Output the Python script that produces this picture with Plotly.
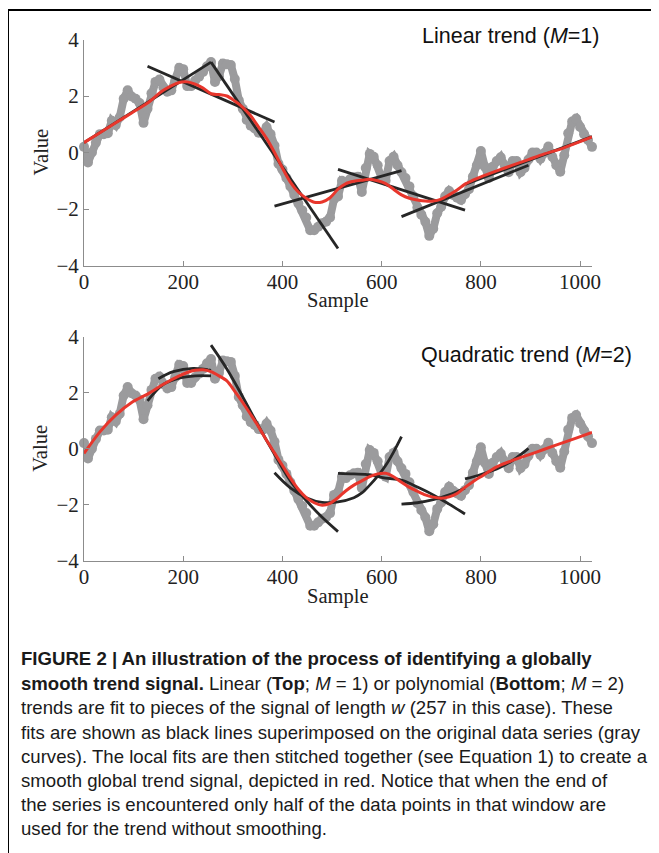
import plotly.graph_objects as go

# ---------------- data ----------------
sample_x = list(range(0, 1025, 8))
signal = [0.2, -0.35, 0.0, 0.35, 0.65, 0.65, 0.68, 1.12, 0.97, 1.25,
          1.9, 2.2, 1.98, 1.9, 1.75, 1.05, 1.55, 2.1, 2.5, 2.58,
          2.3, 2.15, 2.2, 2.55, 3.0, 2.95, 2.35, 2.35, 2.55, 2.68,
          2.85, 3.05, 3.2, 2.5, 2.7, 3.15, 3.12, 3.1, 2.6, 1.85,
          1.55, 1.15, 0.95, 0.85, 0.7, 0.68, 0.9, 0.65, 0.25, -0.4,
          -0.6, -0.9, -1.2, -1.5, -1.8, -2.05, -2.3, -2.75, -2.75, -2.63,
          -2.5, -2.45, -2.3, -1.65, -1.56, -1.0, -1.05, -0.95, -0.88, -0.86,
          -1.4, -0.55, -0.05, -0.15, -0.45, -0.9, -1.0, -0.3, -0.15, -0.45,
          -0.7, -0.9, -1.2, -1.55, -1.95, -2.2, -2.45, -2.95, -2.7, -2.15,
          -1.92, -1.55, -1.36, -1.5, -1.6, -1.68, -1.48, -1.3, -0.85, -0.45,
          0.05, -0.5, -0.9, -0.5, -0.3, -0.17, -0.45, -0.7, -0.3, -0.3,
          -0.7, -0.55, -0.25, 0.0, 0.0, -0.22, -0.02, 0.21, -0.15, -0.45,
          -0.68, -0.1, 0.68, 1.1, 1.2, 0.9, 0.65, 0.44, 0.2]

trend_x = [0, 32, 64, 96, 128, 160, 192, 208, 224, 240, 256, 272, 288, 304, 320,
           336, 352, 368, 384, 400, 416, 432, 448, 464, 480, 496, 512, 528, 544,
           560, 576, 592, 608, 624, 640, 656, 672, 688, 704, 720, 736, 752, 768,
           784, 800, 832, 864, 896, 928, 960, 992, 1024]
trend_linear = [0.35, 0.7, 1.05, 1.4, 1.75, 2.2, 2.48, 2.5, 2.42, 2.28, 2.08, 2.05,
                2.0, 1.82, 1.6, 1.3, 0.9, 0.5, 0.0, -0.55, -1.05, -1.4, -1.62,
                -1.76, -1.75, -1.6, -1.3, -1.1, -1.02, -0.98, -0.95, -1.0, -1.1,
                -1.3, -1.5, -1.62, -1.68, -1.72, -1.72, -1.65, -1.5, -1.33, -1.12,
                -0.98, -0.86, -0.65, -0.45, -0.25, -0.05, 0.12, 0.33, 0.55]
trend_quadratic = [-0.17, 0.6, 1.2, 1.65, 1.95, 2.3, 2.6, 2.72, 2.8, 2.82, 2.75,
                   2.6, 2.42, 2.05, 1.65, 1.22, 0.78, 0.3, -0.15, -0.6, -1.05,
                   -1.45, -1.75, -1.93, -2.02, -1.95, -1.75, -1.5, -1.3, -1.15,
                   -1.0, -0.9, -0.88, -1.0, -1.2, -1.38, -1.52, -1.65, -1.73,
                   -1.77, -1.72, -1.6, -1.38, -1.18, -1.0, -0.65, -0.42, -0.22,
                   -0.02, 0.18, 0.38, 0.58]

# local linear fits (window start/end samples and values)
linear_fit_x = [[0, 256], [128, 384], [256, 512], [384, 640],
                [512, 768], [640, 896], [768, 1024]]
linear_fit_y = [[0.35, 3.2], [3.05, 1.08], [3.2, -3.4], [-1.9, -0.64],
                [-0.6, -2.04], [-2.27, -0.45], [-1.13, 0.56]]

# local quadratic fits
quad_fit_x = [[128, 160, 192, 224, 256],
              [150, 180, 220, 256],
              [256, 288, 320, 352, 384, 416, 448, 480, 512],
              [384, 416, 448, 480, 512, 544, 560, 576, 592, 608, 624, 640],
              [512, 544, 576, 608, 640, 672, 704, 736, 768],
              [640, 672, 704, 736, 768],
              [768, 800, 832, 864, 896]]
quad_fit_y = [[1.71, 2.3, 2.52, 2.6, 2.6],
              [2.5, 2.75, 2.87, 2.8],
              [3.7, 2.85, 1.85, 0.8, -0.2, -1.15, -1.85, -2.45, -2.96],
              [-0.86, -1.4, -1.75, -1.92, -1.9, -1.75, -1.58, -1.3, -0.98, -0.6, -0.12, 0.43],
              [-0.88, -0.9, -0.93, -1.05, -1.12, -1.37, -1.65, -1.98, -2.33],
              [-1.98, -1.93, -1.82, -1.65, -1.4],
              [-1.08, -0.92, -0.72, -0.42, 0.01]]

y_ticks = [-4, -2, 0, 2, 4]
y_tick_text = ["\u22124", "\u22122", "0", "2", "4"]
x_ticks = [0, 200, 400, 600, 800, 1000]

caption_lines = [
    "<b>FIGURE 2 | An illustration of the process of identifying a globally</b>",
    "<b>smooth trend signal.</b> Linear (<b>Top</b>; <i>M</i> = 1) or polynomial (<b>Bottom</b>; <i>M</i> = 2)",
    "trends are fit to pieces of the signal of length <i>w</i> (257 in this case). These",
    "fits are shown as black lines superimposed on the original data series (gray",
    "curves). The local fits are then stitched together (see Equation 1) to create a",
    "smooth global trend signal, depicted in red. Notice that when the end of",
    "the series is encountered only half of the data points in that window are",
    "used for the trend without smoothing.",
]

# ---------------- figure ----------------
OFF = 8                      # page body margin of the html page
W, H = 659 - OFF, 853 - OFF  # figure size that fits the window
GRAY = "#9b9b9d"
BLACK = "#262626"
RED = "#e8362c"
SERIF = "Liberation Serif"
SANS = "Liberation Sans"


def px(v):
    return (v - OFF) / W


def py(v):
    return 1 - (v - OFF) / H


fig = go.Figure()


def add_panel(xa, ya, fits_x, fits_y, trend, shape):
    fig.add_trace(go.Scatter(x=sample_x, y=signal, mode="lines+markers",
                             line=dict(color=GRAY, width=8),
                             marker=dict(color=GRAY, size=10),
                             cliponaxis=False, xaxis=xa, yaxis=ya,
                             showlegend=False, hoverinfo="skip"))
    for fx, fy in zip(fits_x, fits_y):
        fig.add_trace(go.Scatter(x=fx, y=fy, mode="lines",
                                 line=dict(color=BLACK, width=2.8, shape=shape),
                                 cliponaxis=False, xaxis=xa, yaxis=ya,
                                 showlegend=False, hoverinfo="skip"))
    fig.add_trace(go.Scatter(x=trend_x, y=trend, mode="lines",
                             line=dict(color=RED, width=3, shape="spline",
                                       smoothing=0.8),
                             cliponaxis=False, xaxis=xa, yaxis=ya,
                             showlegend=False, hoverinfo="skip"))


add_panel("x", "y", linear_fit_x, linear_fit_y, trend_linear, "linear")
add_panel("x2", "y2", quad_fit_x, quad_fit_y, trend_quadratic, "spline")

xdom = [px(84), px(592)]
top_px = (39.5, 265.5)
bot_px = (336.7, 560.7)


def ydom(p):
    return [py(p[1]), py(p[0])]


axis_common = dict(showgrid=False, zeroline=False, showline=True,
                   linecolor="#8c8c8c", linewidth=1, ticks="inside",
                   ticklen=5, tickcolor="#8c8c8c", tickwidth=1,
                   automargin=False,
                   tickfont=dict(family=SERIF, size=21, color="#222"))

fig.update_layout(
    width=W, height=H, margin=dict(l=0, r=0, t=0, b=0),
    paper_bgcolor="white", plot_bgcolor="white",
    xaxis=dict(domain=xdom, range=[0, 1024], anchor="y", tickvals=x_ticks,
               ticklabelstandoff=-3, **axis_common),
    yaxis=dict(domain=ydom(top_px), range=[-4, 4], anchor="x",
               tickvals=y_ticks, ticktext=y_tick_text, **axis_common),
    xaxis2=dict(domain=xdom, range=[0, 1024], anchor="y2", tickvals=x_ticks,
                ticklabelstandoff=-3, **axis_common),
    yaxis2=dict(domain=ydom(bot_px), range=[-4, 4], anchor="x2",
                tickvals=y_ticks, ticktext=y_tick_text, **axis_common),
)

ann = []
# axis titles
for (yc_sample, yc_value) in [(300, (top_px[0] + top_px[1]) / 2),
                              (596, (bot_px[0] + bot_px[1]) / 2)]:
    ann.append(dict(text="Sample", x=px(338), y=py(yc_sample), xref="paper",
                    yref="paper", showarrow=False, xanchor="center",
                    yanchor="middle", font=dict(family=SERIF, size=20.5,
                                                color="#222")))
    ann.append(dict(text="Value", x=px(40), y=py(yc_value), xref="paper",
                    yref="paper", showarrow=False, textangle=-90,
                    xanchor="center", yanchor="middle",
                    font=dict(family=SERIF, size=20.5, color="#222")))

# panel labels
ann.append(dict(text="Linear trend (<i>M</i>=1)", x=px(602), y=py(36),
                xref="paper", yref="paper", showarrow=False, xanchor="right",
                yanchor="middle", font=dict(family=SANS, size=21.5,
                                            color="#111")))
ann.append(dict(text="Quadratic trend (<i>M</i>=2)", x=px(634), y=py(355),
                xref="paper", yref="paper", showarrow=False, xanchor="right",
                yanchor="middle", font=dict(family=SANS, size=21.5,
                                            color="#111")))

# caption
line_y = [658, 683, 707, 732, 756, 780, 804, 828]
for txt, yy in zip(caption_lines, line_y):
    ann.append(dict(text=txt, x=px(19), y=py(yy), xref="paper",
                    yref="paper", showarrow=False, xanchor="left",
                    yanchor="middle", align="left",
                    font=dict(family=SANS, size=18.6, color="#1a1a1a")))

fig.update_layout(annotations=ann)

# frame around the figure
fig.add_shape(type="rect", xref="paper", yref="paper",
              x0=px(8), x1=px(657), y0=-0.05, y1=py(10),
              line=dict(color="black", width=2), fillcolor="rgba(0,0,0,0)")

fig.write_html("out.html")
